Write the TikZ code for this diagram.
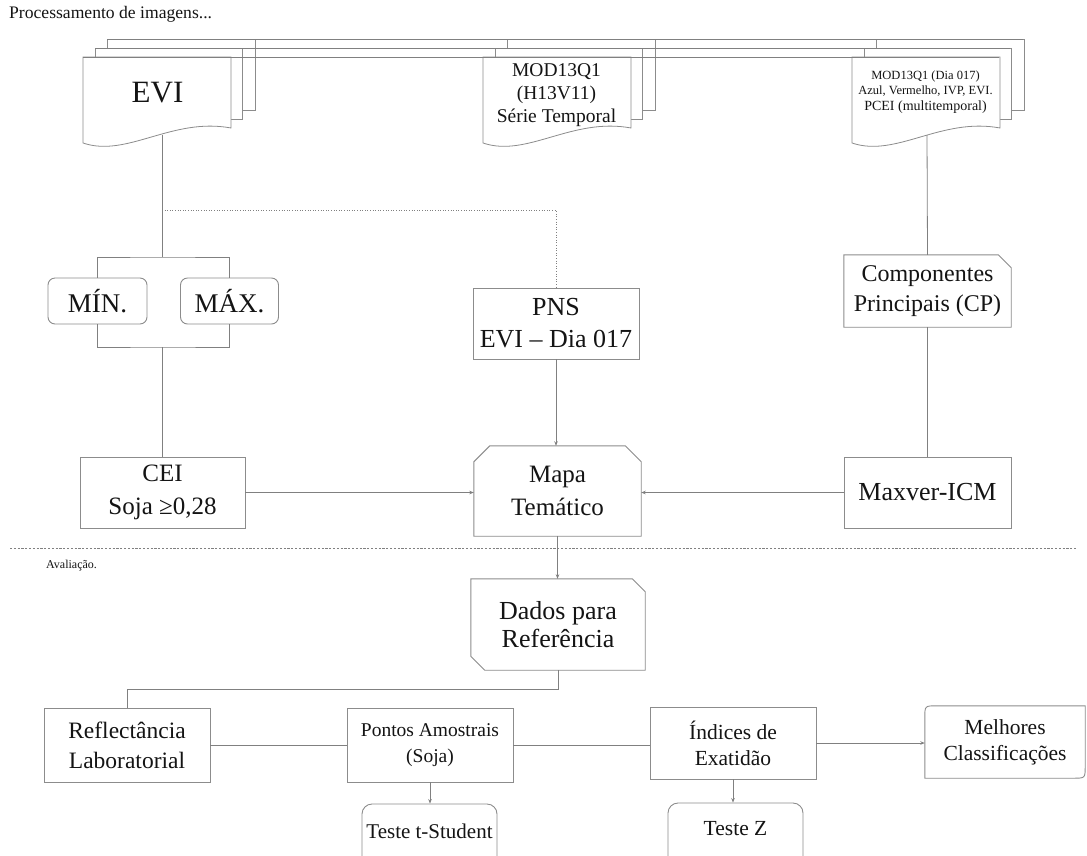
\documentclass[tikz,border=0pt]{standalone}
\usepackage{fontspec}
\setmainfont{Liberation Serif}
\usetikzlibrary{arrows.meta}
\definecolor{linegray}{HTML}{808080}
\definecolor{boxgray}{HTML}{8C8C8C}
\definecolor{inkblack}{HTML}{141414}
\newcommand\fsz[2]{\fontsize{#1}{#2}\selectfont}
% one stack of three documents, front sheet starting at x = #1
\newcommand\docstack[1]{%
  \draw[docline] (#1+24,39) rectangle (#1+172,110);
  \draw[docline] (#1+12,48) rectangle (#1+159,119);
  \draw[docline] (#1,57) -- (#1+148,57) -- (#1+148,128)
     .. controls (#1+89,117) and (#1+44,158) .. (#1,143) -- cycle;
}
\begin{document}
\begin{tikzpicture}[x=1pt,y=-1pt,
  line/.style={draw=linegray, line width=0.8pt},
  arr/.style={line, -{Stealth[length=4.5pt,width=3.5pt]}},
  dotline/.style={draw=linegray, line width=0.7pt, dash pattern=on 1pt off 1.6pt},
  docline/.style={draw=boxgray, line width=0.8pt, fill=white},
  box/.style={draw=boxgray, line width=0.9pt, fill=white, align=center, inner sep=0pt, text=inkblack},
  plain/.style={align=center, inner sep=0pt, text=inkblack},
  roundbox/.style={box, rounded corners=7pt},
  outline/.style={draw=boxgray, line width=0.9pt, fill=white}
]
\useasboundingbox (0,0) rectangle (1087,855);
\clip (0,0) rectangle (1087,855);

% section titles
\node[plain, anchor=west, font=\fsz{17.6}{20}] (ttop) at (9,14) {Processamento de imagens...};
\node[plain, anchor=west, font=\fsz{12}{14}] (tbot) at (46,566) {Avaliação.};

% separator between the two stages
\coordinate (sepl) at (10,548);
\coordinate (sepr) at (1077,548);
\draw[draw=linegray, line width=0.7pt, dash pattern=on 2.2pt off 1.6pt] (sepl) -- (sepr);

% connectors leaving the document stacks
\coordinate (evib) at (162,135);
\coordinate (tj) at (162,257);
\coordinate (dj) at (162,210);
\coordinate (rdb) at (927,135);
\draw[line] (evib) -- (tj);
\draw[dotline] (dj) -| (556,288);

% document stacks
\docstack{83}
\docstack{483}
\docstack{852}
% top edges running across the stacks
\draw[line] (107,39) -- (1023,39);
\draw[line] (95,48) -- (1010,48);
\draw[line] (83,57) -- (999,57);

\node[plain, font=\fsz{31}{36}] (evi) at (157.5,93) {EVI};
\node[plain, font=\fsz{19.5}{23}] (mod) at (556.5,95) {MOD13Q1\\(H13V11)\\Série Temporal};
\node[plain, font=\fsz{12.5}{15.5}] (pcei) at (925.5,92)
  {MOD13Q1 (Dia 017)\\Azul, Vermelho, IVP, EVI.\\{\fsz{14}{15.5}PCEI (multitemporal)}};

% processing boxes
\node[roundbox, minimum width=99pt, minimum height=46pt, font=\fsz{27}{32}] (min) at (97.5,301) {MÍN.};
\node[roundbox, minimum width=98pt, minimum height=46pt, font=\fsz{27}{32}] (max) at (229.5,301) {MÁX.};
\node[box, minimum width=166pt, minimum height=71pt, font=\fsz{26}{32}] (pns) at (556,323.5) {PNS\\EVI – Dia 017};
\node[plain, minimum width=167pt, minimum height=72pt, font=\fsz{24}{30}] (cp) at (927.5,291) {};
\draw[outline] (cp.north west) -- ([xshift=-13pt]cp.north east) -- ([yshift=-13pt]cp.north east)
  -- (cp.south east) -- (cp.south west) -- cycle;
\node[plain, font=\fsz{24}{30}] (cptext) at (cp.center) {Componentes\\Principais (CP)};

\node[box, minimum width=165pt, minimum height=71pt, font=\fsz{25}{33}] (cei) at (162.5,492.5) {CEI\\Soja ≥0,28};
\node[plain, minimum width=167pt, minimum height=90pt] (mapa) at (557.5,491) {};
\draw[outline] ([xshift=16pt]mapa.north west) -- ([xshift=-16pt]mapa.north east) -- ([yshift=-16pt]mapa.north east)
  -- (mapa.south east) -- (mapa.south west) -- ([yshift=-16pt]mapa.north west) -- cycle;
\node[plain, font=\fsz{25}{33}] (mapatext) at (mapa.center) {Mapa\\Temático};
\node[box, minimum width=167pt, minimum height=71pt, font=\fsz{26}{32}] (mxv) at (927.5,492.5) {Maxver-ICM};

% evaluation boxes
\node[plain, minimum width=174pt, minimum height=91pt] (dados) at (558,624.5) {};
\draw[outline] (dados.north west) -- ([xshift=-13pt]dados.north east) -- ([yshift=-13pt]dados.north east)
  -- (dados.south east) -- ([xshift=14pt]dados.south west) -- ([yshift=14pt]dados.south west) -- cycle;
\node[plain, font=\fsz{26}{28}] (dadostext) at (dados.center) {Dados para\\Referência};

\node[box, minimum width=166pt, minimum height=74pt, font=\fsz{23.5}{30}] (refl) at (127,745) {Reflectância\\Laboratorial};
\node[box, minimum width=166pt, minimum height=74pt, font=\fsz{19.5}{26}] (pts) at (430,745) {Pontos Amostrais\\(Soja)};
\node[box, minimum width=166pt, minimum height=72pt, font=\fsz{21.5}{26}] (idx) at (733,743) {Índices de\\Exatidão};
\node[plain, minimum width=160pt, minimum height=72pt] (mel) at (1005,742) {};
\draw[outline] ([xshift=12pt]mel.north west) -- (mel.north east) -- ([yshift=12pt]mel.south east)
  .. controls (mel.south east) .. ([xshift=-12pt]mel.south east) -- (mel.south west)
  -- ([yshift=-12pt]mel.north west) .. controls (mel.north west) .. ([xshift=12pt]mel.north west) -- cycle;
\node[plain, font=\fsz{21.5}{26}] (meltext) at (mel.center) {Melhores\\Classificações};

% test boxes run past the lower edge of the page
\node[roundbox, rounded corners=10pt, minimum width=135pt, minimum height=80pt] (tst) at (429.5,844) {};
\node[plain, font=\fsz{21}{26}] (tsttext) at (429.5,831) {Teste t-Student};
\node[roundbox, rounded corners=10pt, minimum width=135pt, minimum height=80pt] (tz) at (735.5,843) {};
\node[plain, font=\fsz{21.5}{26}] (tztext) at (735.5,829) {Teste Z};

% connectors of the processing stage
\draw[line] (min.north) |- (tj) -| (max.north);
\coordinate (mmj) at (162.5,347);
\draw[line] (min.south) |- (mmj) -| (max.south);
\draw[line] (mmj) -- (cei.north);
\draw[line] (rdb) -- (cp.north);
\draw[line] (cp.south) -- (mxv.north);
\draw[arr] (pns.south) -- (pns.south |- mapa.north);
\draw[arr] (cei.east) -- (cei.east -| mapa.west);
\draw[arr] (mxv.west) -- (mxv.west -| mapa.east);

% connectors of the evaluation stage
\draw[arr] (mapa.south) -- (mapa.south |- dados.north);
\draw[line] (dados.south) -- ++(0,19) -| (refl.north);
\draw[line] (refl.east) -- (refl.east -| pts.west);
\draw[line] (pts.east) -- (pts.east -| idx.west);
\draw[arr] (idx.east) -- (idx.east -| mel.west);
\draw[arr] (pts.south) -- (pts.south |- tst.north);
\draw[arr] (idx.south) -- (idx.south |- tz.north);
\end{tikzpicture}
\end{document}
